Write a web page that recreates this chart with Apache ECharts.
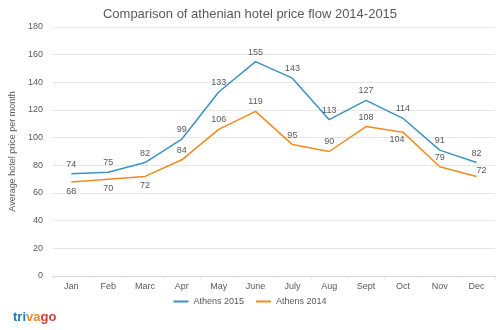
<!DOCTYPE html>
<html>
<head>
<meta charset="utf-8">
<script src="https://cdn.jsdelivr.net/npm/echarts@6/dist/echarts.min.js"></script>
<style>html,body{margin:0;padding:0;background:#fff}#c{width:500px;height:330px}</style>
</head>
<body>
<div id="c"></div>
<script>
var months = ["Jan","Feb","Marc","Apr","May","June","July","Aug","Sept","Oct","Nov","Dec"];
var athens2015 = [74,75,82,99,133,155,143,113,127,114,91,82];
var athens2014 = [68,70,72,84,106,119,95,90,108,104,79,72];
var labelPos2014 = ["bottom","bottom","bottom","top","top","top","top","top","top","bottom","top","top"];
var yTicks = {min:0, max:180, interval:20};

var FONT = "Liberation Sans, Arial, sans-serif";
var chart = echarts.init(document.getElementById('c'), null, {renderer:'canvas'});
var d2014 = athens2014.map(function(v,i){
  var o = {value:v, label:{position:labelPos2014[i]}};
  if (i === 9) o.label.offset = [-6,-2];
  if (i === 11) o.label.offset = [5,4];
  return o;
});
var lbl = {show:true, position:'top', distance:5, fontFamily:FONT, fontSize:9, color:'#595959'};
chart.setOption({
  animation:false,
  backgroundColor:'#fff',
  title:{text:'Comparison of athenian hotel price flow 2014-2015', left:'center', top:3,
    textStyle:{fontFamily:FONT, fontSize:13, fontWeight:'normal', color:'#595959'}},
  grid:{left:40, right:5, top:27, bottom:54},
  legend:{bottom:19, left:'center', itemWidth:15, itemHeight:2, itemGap:12,
    textStyle:{fontFamily:FONT, fontSize:9, color:'#595959'},
    data:[{name:'Athens 2015', icon:'rect'},{name:'Athens 2014', icon:'rect'}]},
  xAxis:{type:'category', data:months, boundaryGap:true,
    axisLine:{lineStyle:{color:'#d9d9d9'}},
    axisTick:{show:true, lineStyle:{color:'#e6e6e6'}, length:3},
    axisLabel:{fontFamily:FONT, fontSize:9, color:'#595959', margin:6}},
  yAxis:{type:'value', min:yTicks.min, max:yTicks.max, interval:yTicks.interval,
    name:'Average hotel price per month', nameLocation:'middle', nameGap:29,
    nameTextStyle:{fontFamily:FONT, fontSize:9, color:'#595959'},
    axisLine:{show:false}, axisTick:{show:false},
    axisLabel:{fontFamily:FONT, fontSize:9, color:'#595959', margin:10},
    splitLine:{lineStyle:{color:'#e6e6e6'}}},
  series:[
    {name:'Athens 2015', type:'line', data:athens2015, symbol:'circle', symbolSize:0.01, showSymbol:true,
      color:'#3a93c3', itemStyle:{color:'#3a93c3'},
      lineStyle:{width:1.5, color:'#3a93c3'}, label:lbl},
    {name:'Athens 2014', type:'line', data:d2014, symbol:'circle', symbolSize:0.01, showSymbol:true,
      color:'#f28a1e', itemStyle:{color:'#f28a1e'},
      lineStyle:{width:1.5, color:'#f28a1e'}, label:lbl}
  ],
  graphic:[{type:'text', left:13, top:311,
    style:{text:'{a|tri}{b|va}{c|go}', font:'bold 13px '+FONT,
      rich:{a:{fill:'#1d7bb8', font:'bold 13px '+FONT}, b:{fill:'#f28a1e', font:'bold 13px '+FONT}, c:{fill:'#c8413a', font:'bold 13px '+FONT}}}}]
});
</script>
</body>
</html>
